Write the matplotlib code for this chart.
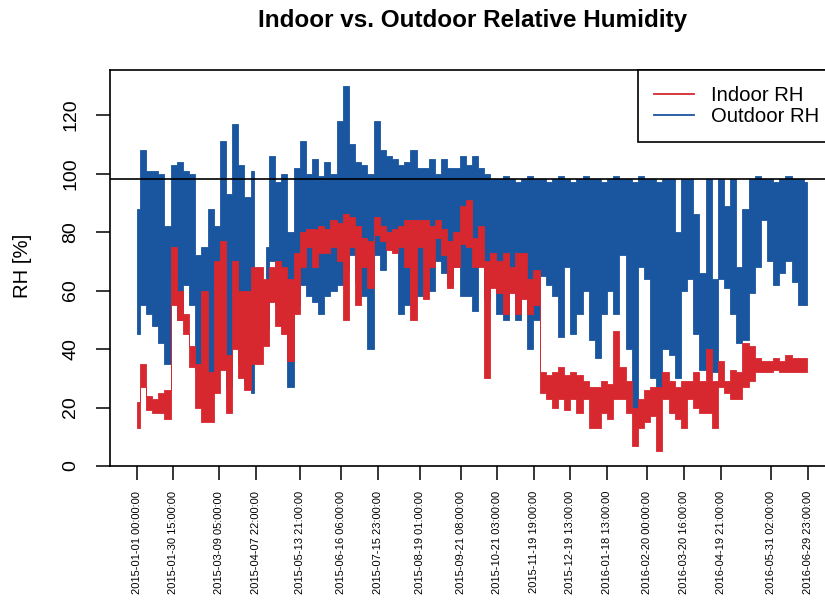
import numpy as np
import pandas as pd
import matplotlib
matplotlib.use('Agg')
import matplotlib.pyplot as plt
from matplotlib.lines import Line2D

plt.rcParams['font.family'] = ['Liberation Sans', 'DejaVu Sans']

# sample dates (5-day steps), each with the high and low reading of that window
days = pd.date_range('2015-01-01', periods=110, freq='5D')

outdoor_hi = [
    88, 108, 101, 101, 100, 82, 103, 104, 101, 100,
    72, 75, 88, 82, 111, 93, 117, 103, 92, 101,
    None, 75, 106, 97, 100, 80, 102, 111, 100, 105,
    99, 104, 100, 118, 130, 110, 104, 103, 100, 118,
    108, 106, 105, 103, 104, 108, 102, 102, 105, 100,
    105, 102, 102, 106, 103, 106, 102, 100, 98, 98,
    99, 98, 97, 98, 99, 98, 98, 97, 98, 99,
    98, 97, 98, 99, 98, 98, 97, 98, 99, 98,
    98, 97, 99, 98, 98, 97, 98, 98, 80, 98,
    98, 86, 66, 98, 64, 98, 89, 98, 68, 88,
    98, 99, 98, 98, 97, 98, 99, 98, 98, 97,
]
outdoor_lo = [
    45, 55, 52, 48, 42, 35, 65, 50, 62, 55,
    33, 32, 30, 33, 36, 27, 42, 35, 28, 25,
    None, 47, 70, 55, 48, 27, 55, 62, 58, 56,
    52, 58, 60, 62, 67, 72, 63, 58, 40, 72,
    67, 80, 76, 52, 55, 68, 58, 60, 60, 70,
    66, 62, 68, 58, 58, 53, 70, 57, 68, 52,
    50, 64, 50, 63, 40, 50, 65, 62, 58, 44,
    68, 45, 52, 60, 43, 37, 52, 60, 52, 72,
    40, 19, 68, 64, 30, 25, 40, 38, 30, 60,
    64, 45, 33, 34, 32, 64, 61, 52, 42, 43,
    59, 68, 84, 70, 62, 66, 70, 63, 55, 55,
]
indoor_hi = [
    22, 35, 24, 23, 25, 26, 75, 60, 52, 41,
    35, 60, 32, 70, 77, 38, 70, 60, 60, 68,
    68, 64, 68, 70, 68, 64, 73, 80, 81, 81,
    82, 81, 84, 83, 86, 85, 82, 78, 77, 85,
    82, 80, 81, 82, 84, 84, 84, 84, 82, 84,
    81, 77, 80, 89, 91, 78, 82, 70, 73, 70,
    73, 68, 73, 73, 64, 67, 32, 31, 32, 34,
    31, 32, 31, 29, 27, 27, 29, 28, 46, 34,
    29, 20, 23, 26, 27, 27, 32, 29, 27, 29,
    29, 32, 29, 40, 29, 36, 29, 33, 32, 42,
    41, 37, 36, 36, 37, 36, 38, 37, 37, 37,
]
indoor_lo = [
    13, 27, 19, 18, 18, 16, 55, 50, 45, 34,
    20, 15, 15, 25, 33, 18, 40, 30, 26, 35,
    35, 41, 56, 48, 45, 36, 52, 68, 75, 68,
    73, 73, 75, 70, 50, 75, 55, 68, 61, 79,
    77, 74, 73, 75, 68, 50, 75, 57, 68, 78,
    72, 61, 68, 76, 75, 68, 68, 30, 61, 59,
    52, 59, 52, 57, 52, 55, 25, 23, 20, 23,
    19, 23, 18, 23, 13, 13, 18, 16, 23, 23,
    18, 7, 13, 15, 17, 5, 23, 18, 16, 13,
    23, 20, 18, 18, 13, 27, 25, 23, 23, 27,
    29, 32, 32, 32, 33, 32, 32, 32, 32, 32,
]

tick_labels = [
    "2015-01-01 00:00:00", "2015-01-30 15:00:00", "2015-03-09 05:00:00",
    "2015-04-07 22:00:00", "2015-05-13 21:00:00", "2015-06-16 06:00:00",
    "2015-07-15 23:00:00", "2015-08-19 01:00:00", "2015-09-21 08:00:00",
    "2015-10-21 03:00:00", "2015-11-19 19:00:00", "2015-12-19 13:00:00",
    "2016-01-18 13:00:00", "2016-02-20 00:00:00", "2016-03-20 16:00:00",
    "2016-04-19 21:00:00", "2016-05-31 02:00:00", "2016-06-29 23:00:00",
]

blue = '#1a56a0'
red = '#d7282f'

fig = plt.figure(figsize=(8.25, 6.01), dpi=100)
ax = fig.add_axes([0.1333, 0.2246, 0.8788, 0.6589])

out_hi = np.array(outdoor_hi, dtype=float)
out_lo = np.array(outdoor_lo, dtype=float)
in_hi = np.array(indoor_hi, dtype=float)
in_lo = np.array(indoor_lo, dtype=float)

ax.fill_between(days, out_lo, out_hi, step='mid', color=blue, lw=0.6, edgecolor=blue)
ax.fill_between(days, in_lo, in_hi, step='mid', color=red, lw=0.6, edgecolor=red)
ax.axhline(98, color='black', lw=1.2)

start = pd.Timestamp('2015-01-01')
ax.set_xlim(start - pd.Timedelta(days=21.84), start + pd.Timedelta(days=567.8))
ax.set_ylim(0, 135.4)

ax.set_yticks([0, 20, 40, 60, 80, 100, 120])
ax.set_yticklabels(['0', '20', '40', '60', '80', '100', '120'],
                   rotation=90, va='center', fontsize=14)
ax.set_xticks(pd.to_datetime(tick_labels))
ax.set_xticklabels(tick_labels, rotation=90, fontsize=8)
ax.tick_params(axis='both', direction='out', length=10, width=1.1)
ax.tick_params(axis='y', pad=12)
ax.tick_params(axis='x', pad=8)
for s in ax.spines.values():
    s.set_linewidth(1.2)

handles = [Line2D([], [], color=red, lw=1.3), Line2D([], [], color=blue, lw=1.3)]
leg = ax.legend(handles, ['Indoor RH', 'Outdoor RH'], loc='upper right',
                bbox_to_anchor=(1, 1), borderaxespad=0, fancybox=False,
                edgecolor='black', framealpha=1, fontsize=14.6,
                handlelength=2.0, handletextpad=0.8, borderpad=0.8,
                labelspacing=0.1)
leg.get_frame().set_linewidth(1.2)

fig.text(472.5 / 825, 1 - 20 / 601, 'Indoor vs. Outdoor Relative Humidity',
         ha='center', va='center', fontsize=17.5, fontweight='bold')
fig.text(22 / 825, 1 - 266 / 601, 'RH [%]', rotation=90,
         ha='center', va='center', fontsize=14.6)

fig.savefig('out.png', dpi=100)
